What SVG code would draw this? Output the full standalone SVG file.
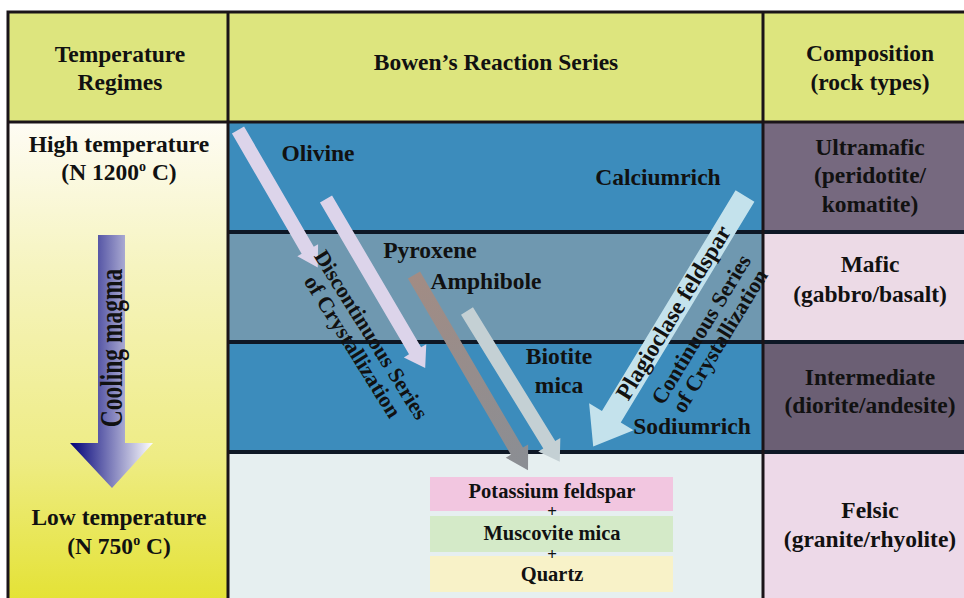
<svg xmlns="http://www.w3.org/2000/svg" width="964" height="598" viewBox="0 0 964 598">
<defs>
<style>
text{font-family:"Liberation Serif","Times New Roman",serif;font-weight:bold;fill:#111;text-anchor:middle;font-size:23.5px}
.sm{font-size:20.5px}
.plus{font-size:17px}
.rot{font-size:22px}
.grid{stroke:#1a1418;stroke-width:3;fill:none}
.row{stroke:#0e1826;stroke-width:4}
</style>
<linearGradient id="leftbg" x1="0" y1="0" x2="0" y2="1">
<stop offset="0" stop-color="#fefcf4"/>
<stop offset="0.3" stop-color="#f6f4c0"/>
<stop offset="0.7" stop-color="#eeec84"/>
<stop offset="1" stop-color="#e4e234"/>
</linearGradient>
<linearGradient id="cool" gradientUnits="userSpaceOnUse" x1="70" y1="0" x2="153" y2="0">
<stop offset="0" stop-color="#000078"/>
<stop offset="1" stop-color="#ffffff"/>
</linearGradient>
<linearGradient id="grayArr" x1="0" y1="0" x2="1" y2="0">
<stop offset="0" stop-color="#a28c84"/>
<stop offset="1" stop-color="#8a8e94"/>
</linearGradient>
</defs>
<rect x="0" y="0" width="964" height="598" fill="#ffffff"/>
<g id="header">
<rect x="8" y="12" width="960" height="110" fill="#dde57e"/>
<text x="120" y="62">Temperature</text>
<text x="120" y="90">Regimes</text>
<text x="496" y="70">Bowen’s Reaction Series</text>
<text x="870" y="61">Composition</text>
<text x="870" y="90">(rock types)</text>
</g>
<g id="left-column">
<rect x="8" y="122" width="220" height="480" fill="url(#leftbg)"/>
<text x="119" y="152">High temperature</text>
<text x="119" y="180">(N 1200<tspan font-size="14" dy="-9">o</tspan><tspan dy="9"> C)</tspan></text>
<text x="119" y="525">Low temperature</text>
<text x="119" y="554">(N 750<tspan font-size="14" dy="-9">o</tspan><tspan dy="9"> C)</tspan></text>
</g>
<g id="middle-rows">
<rect x="228" y="122" width="535" height="110" fill="#3c8cbc"/>
<rect x="228" y="232" width="535" height="110" fill="#6f98b0"/>
<rect x="228" y="342" width="535" height="110" fill="#3c8cbc"/>
<rect x="228" y="452" width="535" height="150" fill="#e6eff0"/>
</g>
<g id="right-column">
<rect x="763" y="122" width="205" height="110" fill="#76697f"/>
<rect x="763" y="232" width="205" height="110" fill="#ecdae6"/>
<rect x="763" y="342" width="205" height="110" fill="#6b5f74"/>
<rect x="763" y="452" width="205" height="150" fill="#edd9e8"/>
</g>
<g id="grid-lines">
<line class="row" x1="228" y1="232" x2="964" y2="232"/>
<line class="row" x1="228" y1="342" x2="964" y2="342"/>
<line class="row" x1="228" y1="452" x2="964" y2="452"/>
<line class="grid" x1="8" y1="122" x2="964" y2="122"/>
<line class="grid" x1="228" y1="12" x2="228" y2="598"/>
<line class="grid" x1="763" y1="12" x2="763" y2="598"/>
<rect class="grid" x="8" y="12" width="970" height="600"/>
</g>
<g id="connectors">
<polygon fill="#dcd4ea" transform="translate(238,130) rotate(59.9)" points="0,-7 139,-7 139,-12 159,0 139,12 139,7 0,7"/>
<polygon fill="#dcd4ea" transform="translate(326,199) rotate(59.6)" points="0,-7 176,-7 176,-13 196,0 176,13 176,7 0,7"/>
<polygon fill="url(#grayArr)" transform="translate(414,275) rotate(59.7)" points="0,-7 204,-7 204,-13 226,0 204,13 204,7 0,7"/>
<polygon fill="#c4d0d4" transform="translate(467,311) rotate(58.4)" points="0,-7 157,-7 157,-13 177,0 157,13 157,7 0,7"/>
<polygon fill="#c4e2ec" transform="translate(745,196) rotate(121.2)" points="0,-11 258,-11 258,-26 293,0 258,26 258,11 0,11"/>
<polygon fill="url(#cool)" points="98,235 125,235 125,443 153,443 112,488 70,443 98,443"/>
</g>
<g id="cooling-label">
<text transform="translate(122,348) rotate(-90) scale(1,1.3)">Cooling magma</text>
</g>
<g id="minerals">
<text x="318" y="161">Olivine</text>
<text x="658" y="185">Calciumrich</text>
<text x="430" y="258">Pyroxene</text>
<text x="486" y="289">Amphibole</text>
<text x="559" y="364">Biotite</text>
<text x="559" y="393">mica</text>
<text x="692" y="434">Sodiumrich</text>
</g>
<g id="discontinuous-label" transform="translate(371,335) rotate(58)">
<text class="rot" x="0" y="7">Discontinuous Series</text>
<text class="rot" x="0" y="29">of Crystallization</text>
</g>
<g id="continuous-label" transform="translate(674,313) rotate(-58.7)">
<text x="0" y="7">Plagioclase feldspar</text>
<text class="rot" x="0" y="39">Continuous Series</text>
<text class="rot" x="0" y="61">of Crystallization</text>
</g>
<g id="final-minerals">
<rect x="430" y="477" width="243" height="34" fill="#f2c6e0"/>
<rect x="430" y="516" width="243" height="36" fill="#d4eac8"/>
<rect x="430" y="556" width="243" height="36" fill="#f8f2c8"/>
<text class="sm" x="552" y="498">Potassium feldspar</text>
<text class="plus" x="552" y="517">+</text>
<text class="sm" x="552" y="540">Muscovite mica</text>
<text class="plus" x="552" y="560">+</text>
<text class="sm" x="552" y="581">Quartz</text>
</g>
<g id="compositions">
<text x="870" y="155">Ultramafic</text>
<text x="870" y="183">(peridotite/</text>
<text x="870" y="212">komatite)</text>
<text x="870" y="272">Mafic</text>
<text x="870" y="302">(gabbro/basalt)</text>
<text x="870" y="385">Intermediate</text>
<text x="870" y="413">(diorite/andesite)</text>
<text x="870" y="518">Felsic</text>
<text x="870" y="547">(granite/rhyolite)</text>
</g>
</svg>
